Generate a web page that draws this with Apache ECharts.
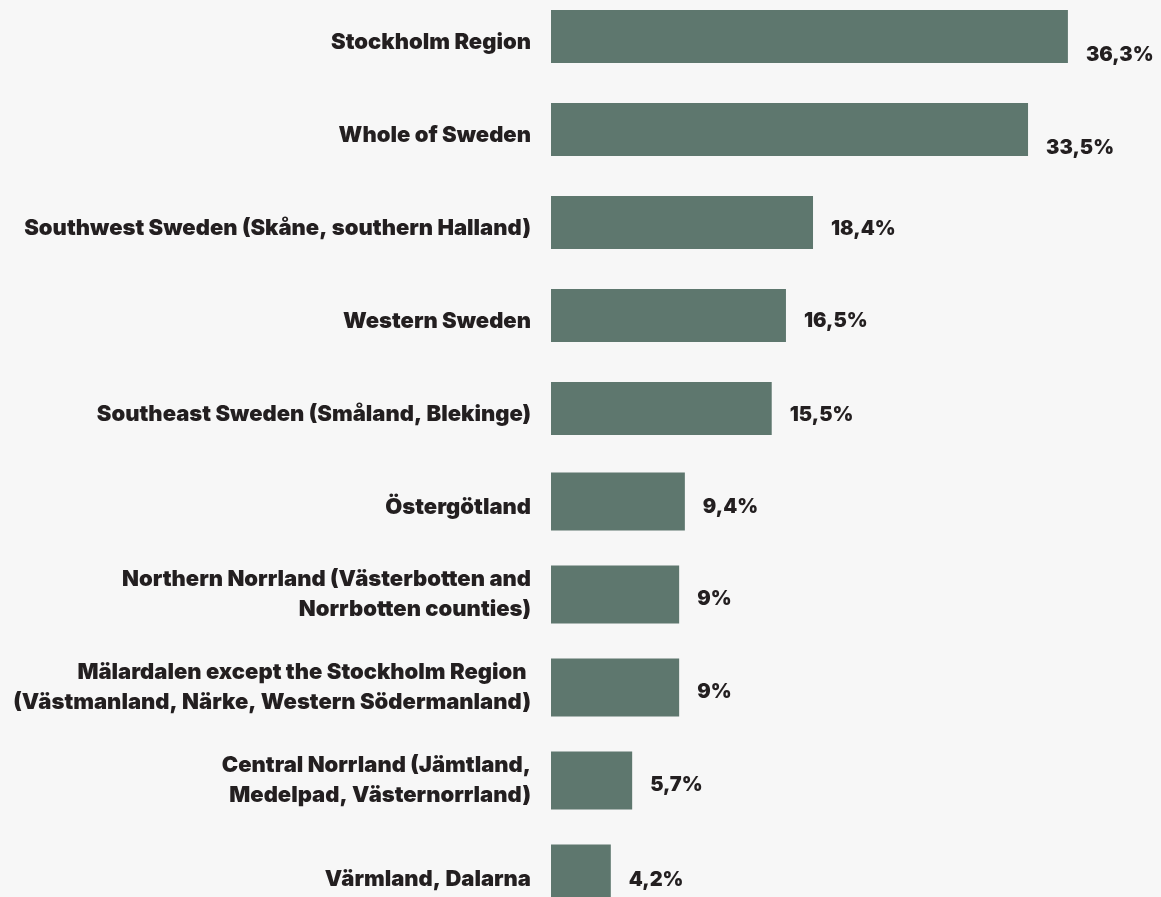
<!DOCTYPE html>
<html>
<head>
<meta charset="utf-8">
<script src="https://cdn.jsdelivr.net/npm/echarts@6/dist/echarts.min.js"></script>
<style>
html,body{margin:0;padding:0;background:#f7f7f7;overflow:hidden;width:1161px;height:897px;}
#chart{position:absolute;left:0;top:-10px;width:1161px;height:930px;}
</style>
</head>
<body>
<div id="chart"></div>
<script>
var categories = [
  "Stockholm Region",
  "Whole of Sweden",
  "Southwest Sweden (Skåne, southern Halland)",
  "Western Sweden",
  "Southeast Sweden (Småland, Blekinge)",
  "Östergötland",
  "Northern Norrland (Västerbotten and\nNorrbotten counties)",
  "Mälardalen except the Stockholm Region \n(Västmanland, Närke, Western Södermanland)",
  "Central Norrland (Jämtland,\nMedelpad, Västernorrland)",
  "Värmland, Dalarna"
];
var values = [36.3, 33.5, 18.4, 16.5, 15.5, 9.4, 9, 9, 5.7, 4.2];
var labelDrop = [18.5, 18.5, 6, 5.5, 6, 5, 4, 4, 4, 6];
var thinRows = 5; // first rows drawn with the thinner bar

var chart = echarts.init(document.getElementById('chart'), null, {renderer: 'canvas'});
var font = 'Inter, "Noto Sans", sans-serif';
var weight = 900;

function seriesFor(useThin) {
  return values.map(function (v, i) {
    var inSet = useThin ? i < thinRows : i >= thinRows;
    if (!inSet) return null;
    return {value: v, label: {offset: [0, labelDrop[i]]}};
  });
}
var labelStyle = {
  show: true, position: 'right', distance: 18,
  color: '#231f20', fontFamily: font, fontWeight: weight, fontSize: 20,
  formatter: function (p) { return String(p.value).replace('.', ',') + '%'; }
};
var catText = {color: '#231f20', fontFamily: font, fontWeight: weight, fontSize: 22, lineHeight: 30};

chart.setOption({
  backgroundColor: '#f7f7f7',
  animation: false,
  grid: {left: 551, right: 40.4, top: 0, bottom: 0, containLabel: false},
  xAxis: {type: 'value', min: 0, max: 40, show: false},
  yAxis: [{
    type: 'category', data: categories, inverse: true,
    axisLine: {show: false}, axisTick: {show: false}, splitLine: {show: false},
    axisLabel: {
      margin: 20, color: '#231f20', fontFamily: font, fontWeight: weight,
      fontSize: 22, lineHeight: 30, align: 'right',
      formatter: function (v) {
        var lines = v.split('\n');
        if (lines.length === 1) return '{s|' + v + '}';
        return lines.map(function (l) { return '{m|' + l + '}'; }).join('\n');
      },
      rich: {
        s: Object.assign({padding: [12, 0, 0, 0]}, catText),
        m: Object.assign({}, catText)
      }
    }
  }, {
    type: 'category', data: categories, inverse: true, show: false
  }],
  series: [{
    type: 'bar', yAxisIndex: 0, data: seriesFor(true), barWidth: 53,
    itemStyle: {color: '#5e776e'}, label: labelStyle
  }, {
    type: 'bar', yAxisIndex: 1, data: seriesFor(false), barWidth: 58,
    itemStyle: {color: '#5e776e'}, label: labelStyle
  }]
});
</script>
</body>
</html>
